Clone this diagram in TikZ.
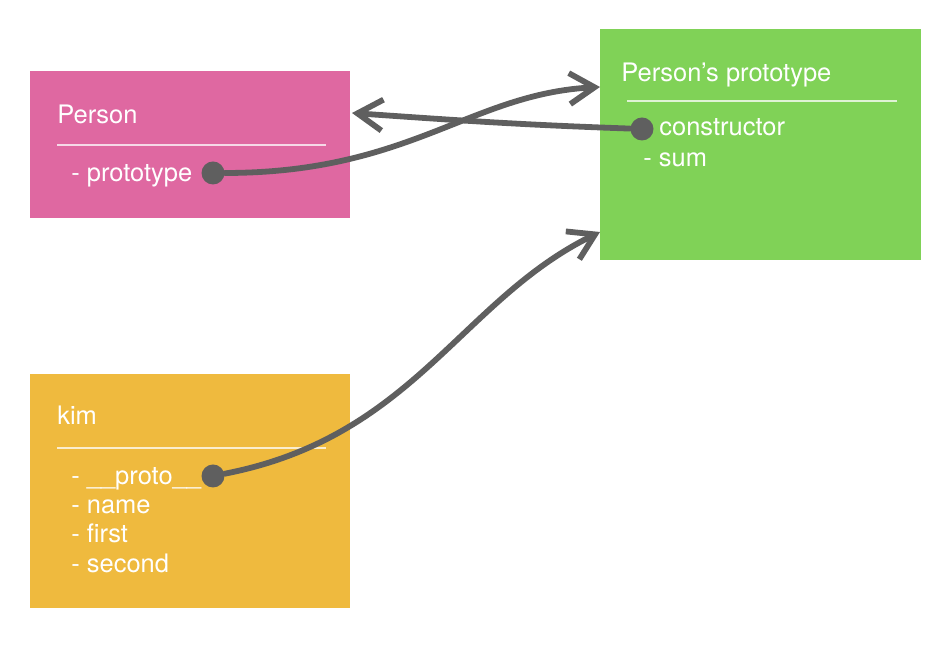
\documentclass[tikz,border=0pt]{standalone}
\usepackage{fontspec}
\setmainfont{TeX Gyre Heros}
\usepackage{xcolor}
\usepackage{tikz}
\usetikzlibrary{arrows.meta}

\definecolor{personpink}{HTML}{DF68A1}
\definecolor{protogreen}{HTML}{80D257}
\definecolor{kimorange}{HTML}{EFBA3E}
\definecolor{linkgray}{HTML}{5F5F5F}

\begin{document}
\begin{tikzpicture}[x=0.02cm, y=0.02cm,
    obj node/.style={rectangle, anchor=north west, inner sep=0pt, minimum width=6.4cm},
    txt node/.style={anchor=base west, inner sep=0pt, text=white, font=\fontsize{14.5}{17}\selectfont},
    dot node/.style={circle, fill=linkgray, inner sep=0pt, minimum size=0.46cm},
    sep line/.style={draw=white, opacity=0.75, line width=0.8pt},
    link/.style={draw=linkgray, line width=3.3pt, line cap=round, -{Straight Barb[length=5mm, width=6.2mm]}}]
    \useasboundingbox (0,0) rectangle (948,662);

    % boxes
    \node[obj node, fill=personpink, minimum height=2.94cm] (Pbox) at (30,591) {};
    \node[obj node, fill=protogreen, minimum width=6.42cm, minimum height=4.62cm] (PPbox) at (600,633) {};
    \node[obj node, fill=kimorange, minimum height=4.68cm] (Kbox) at (30,288) {};

    % Person
    \node[txt node] (P) at (57,538) {Person};
    \draw[sep line] (57,517) -- (326,517);
    \node[txt node] (Pproto) at (71,480) {- prototype};
    \node[dot node] (Pdot) at (213,489) {};

    % Person's prototype
    \node[txt node] (PP) at (621,580) {Person’s prototype};
    \draw[sep line] (627,561) -- (897,561);
    \node[txt node] (PPcons) at (659,526) {constructor};
    \node[txt node] (PPsum) at (643,495) {- sum};
    \node[dot node] (PPdot) at (642,533) {};

    % kim
    \node[txt node] (K) at (57,237) {kim};
    \draw[sep line] (57,214) -- (326,214);
    \node[txt node] (Kproto) at (71,177) {- \_\_proto\_\_};
    \node[txt node] (Kname) at (71,148) {- name};
    \node[txt node] (Kfirst) at (71,119) {- first};
    \node[txt node] (Ksecond) at (71,89) {- second};
    \node[dot node] (Kdot) at (213,186) {};

    \coordinate (PPin) at (600,575);
    \coordinate (Pin) at (352,549);
    \coordinate (PPin2) at (600,430);

    \path[link]
    (Pdot) edge[out=0, in=183, out distance=3.7cm, in distance=2.6cm] (PPin)
    (PPdot) edge[out=178, in=-4] (Pin)
    (Kdot) edge[out=11, in=206, out distance=3.85cm, in distance=3.1cm] (PPin2)
    ;
\end{tikzpicture}
\end{document}
